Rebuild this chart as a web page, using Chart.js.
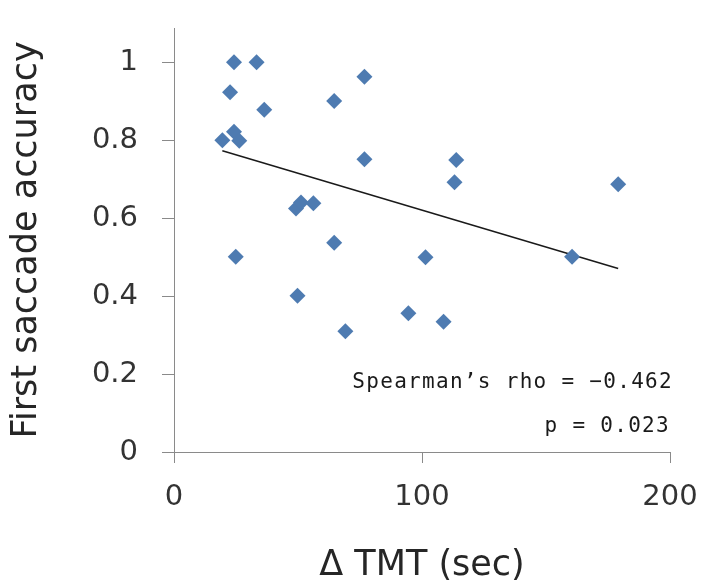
<!DOCTYPE html>
<html>
<head>
<meta charset="utf-8">
<script src="https://cdn.jsdelivr.net/npm/chart.js@4/dist/chart.umd.min.js"></script>
<style>
  html, body { margin: 0; padding: 0; background: #ffffff; }
  #wrap { width: 702px; height: 580px; position: relative; }
</style>
</head>
<body>
<div id="wrap"><canvas id="c" width="702" height="580"></canvas></div>
<script>
// ---- data ----
const tmtSec = [24.2, 33.3, 22.6, 36.4, 76.8, 64.6, 19.5, 24.2, 26.3, 76.8, 49.2, 51.2,
                56.2, 24.9, 49.8, 64.6, 69.1, 94.5, 101.4, 113.8, 113.1, 179.1, 160.5, 108.7];
const firstSaccadeAccuracy = [1.0, 1.0, 0.923, 0.878, 0.963, 0.901, 0.80, 0.822, 0.799, 0.751, 0.625, 0.640,
                0.638, 0.501, 0.401, 0.537, 0.310, 0.356, 0.500, 0.749, 0.692, 0.687, 0.501, 0.334];
const trendX = [19.5, 179.1];
const trendY = [0.773, 0.471];
const xTickValues = [0, 100, 200];
const yTickValues = [0, 0.2, 0.4, 0.6, 0.8, 1];
const xTitle = 'Δ TMT (sec)';
const yTitle = 'First saccade accuracy';
const statLines = ['Spearman’s rho = −0.462', 'p = 0.023'];

const scatterPoints = tmtSec.map((x, i) => ({ x: x, y: firstSaccadeAccuracy[i] }));
const trendPoints = trendX.map((x, i) => ({ x: x, y: trendY[i] }));

const axisGrey = '#8a8a8a';
const labelColor = '#333333';

const statPlugin = {
  id: 'statText',
  afterDraw(chart) {
    const ctx = chart.ctx;
    const a = chart.chartArea;
    ctx.save();
    ctx.fillStyle = '#1a1a1a';
    ctx.font = '21px "DejaVu Sans Mono"';
    ctx.textAlign = 'right';
    ctx.textBaseline = 'alphabetic';
    try { ctx.letterSpacing = '1.3px'; } catch (e) {}
    ctx.fillText(statLines[0], a.right + 3, a.bottom - 64);
    ctx.fillText(statLines[1], a.right + 0, a.bottom - 20);
    ctx.restore();
  }
};

new Chart(document.getElementById('c'), {
  type: 'scatter',
  data: {
    datasets: [
      {
        type: 'line',
        data: trendPoints,
        borderColor: '#1a1a1a',
        borderWidth: 1.5,
        pointRadius: 0,
        fill: false,
        order: 1
      },
      {
        type: 'scatter',
        data: scatterPoints,
        pointStyle: 'rectRot',
        pointRadius: 8,
        backgroundColor: '#4E7BB1',
        borderColor: '#4E7BB1',
        borderWidth: 0,
        order: 0
      }
    ]
  },
  options: {
    responsive: false,
    animation: false,
    devicePixelRatio: 1,
    layout: { padding: { top: 28, left: 0, right: 0, bottom: 0 } },
    plugins: { legend: { display: false }, tooltip: { enabled: false } },
    scales: {
      x: {
        type: 'linear',
        min: 0, max: 200,
        afterBuildTicks: (s) => { s.ticks = xTickValues.map(v => ({ value: v })); },
        afterFit: (s) => { s.height = 128; s.paddingRight = 32; s.paddingLeft = 0; },
        grid: { drawOnChartArea: false, drawTicks: true, tickLength: 11, color: axisGrey, lineWidth: 1 },
        border: { display: true, color: axisGrey, width: 1 },
        ticks: {
          padding: 17,
          color: labelColor,
          font: { family: '"DejaVu Sans"', size: 29 },
          callback: (v) => String(v)
        },
        title: {
          display: true,
          text: xTitle,
          color: '#262626',
          font: { family: '"DejaVu Sans"', size: 35, lineHeight: 0.8 },
          padding: { top: 0, bottom: 0 }
        }
      },
      y: {
        type: 'linear',
        min: 0, max: 1.088,
        afterBuildTicks: (s) => { s.ticks = yTickValues.map(v => ({ value: v })); },
        afterFit: (s) => { s.width = 174; s.paddingTop = 0; s.paddingBottom = 0; },
        grid: { drawOnChartArea: false, drawTicks: true, tickLength: 12, color: axisGrey, lineWidth: 1 },
        border: { display: true, color: axisGrey, width: 1 },
        ticks: {
          padding: 24,
          color: labelColor,
          font: { family: '"DejaVu Sans"', size: 29 },
          callback: (v) => String(Math.round(v * 10) / 10)
        },
        title: {
          display: true,
          text: yTitle,
          color: '#262626',
          font: { family: '"DejaVu Sans"', size: 35, lineHeight: 1 },
          padding: { top: 9, bottom: 0 }
        }
      }
    }
  },
  plugins: [statPlugin]
});
</script>
</body>
</html>
